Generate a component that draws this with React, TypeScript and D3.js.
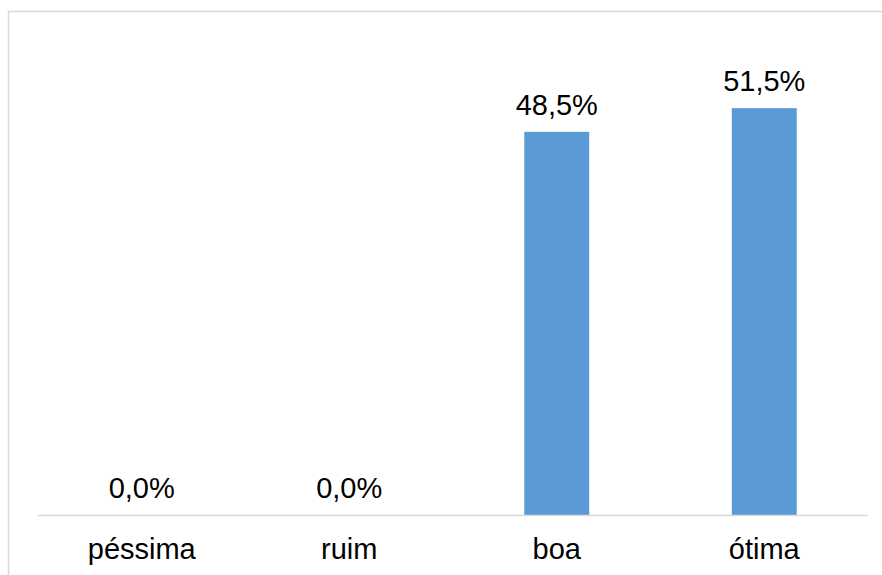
import React from "react";
import * as d3 from "d3";

const categories = ["péssima", "ruim", "boa", "ótima"];
const values = [0.0, 0.0, 48.5, 51.5];
const labels = ["0,0%", "0,0%", "48,5%", "51,5%"];

const W = 882;
const H = 575;

export default function App() {
  const x = d3.scaleBand<string>().domain(categories).range([38, 868]).paddingInner(0.687).paddingOuter(0.3435);
  const y = d3.scaleLinear().domain([0, 60]).range([515, 41]);
  const font = "'Liberation Sans', Arial, sans-serif";
  return (
    <div style={{ position: "fixed", left: 0, top: 0, width: W, height: H, background: "#fff" }}>
      <svg width={W} height={H} style={{ display: "block" }}>
        <rect x={8.5} y={11.5} width={W + 10} height={H + 10} fill="#fff" stroke="#d9d9d9" strokeWidth={1.5} />
        {categories.map((c, i) => (
          <rect key={c} x={x(c)} y={y(values[i])} width={x.bandwidth()} height={y(0) - y(values[i])} fill="#5b9bd5" />
        ))}
        <line x1={38} x2={868} y1={515.5} y2={515.5} stroke="#d9d9d9" strokeWidth={1.5} />
        {categories.map((c, i) => (
          <text key={"l" + c} x={(x(c) as number) + x.bandwidth() / 2} y={y(values[i]) - 17} textAnchor="middle" fontFamily={font} fontSize={29} fill="#000">
            {labels[i]}
          </text>
        ))}
        {categories.map((c) => (
          <text key={"c" + c} x={(x(c) as number) + x.bandwidth() / 2} y={559} textAnchor="middle" fontFamily={font} fontSize={29} fill="#000">
            {c}
          </text>
        ))}
      </svg>
    </div>
  );
}
